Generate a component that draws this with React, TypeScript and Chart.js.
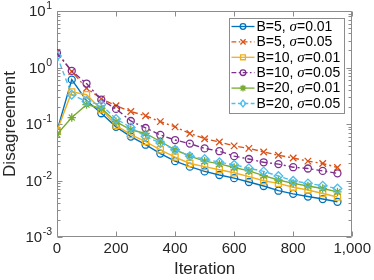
import React, { useEffect, useRef } from 'react';
import { Chart, registerables } from 'chart.js';

Chart.register(...registerables);

// ---------- data ----------
const iterations = [0, 50, 100, 150, 200, 250, 300, 350, 400, 450, 500, 550, 600, 650, 700, 750, 800, 850, 900, 950];

const b5s001 = [0.075, 0.61, 0.26, 0.155, 0.089, 0.060, 0.043, 0.030, 0.022, 0.0176, 0.0145, 0.0125, 0.0110, 0.0094, 0.0080, 0.0066, 0.0058, 0.0052, 0.0047, 0.0042];
const b5s005 = [1.85, 0.85, 0.43, 0.28, 0.21, 0.166, 0.140, 0.110, 0.089, 0.068, 0.055, 0.048, 0.041, 0.037, 0.032, 0.028, 0.025, 0.022, 0.020, 0.017];
const b10s001 = [0.075, 0.37, 0.33, 0.18, 0.095, 0.065, 0.049, 0.035, 0.026, 0.020, 0.0176, 0.0155, 0.0137, 0.0117, 0.0099, 0.0089, 0.0076, 0.0068, 0.0059, 0.0051];
const b10s005 = [1.8, 0.87, 0.52, 0.27, 0.185, 0.113, 0.085, 0.064, 0.052, 0.045, 0.037, 0.033, 0.027, 0.024, 0.021, 0.0195, 0.0172, 0.0163, 0.0148, 0.0134];
const b20s001 = [0.066, 0.13, 0.22, 0.19, 0.11, 0.079, 0.068, 0.049, 0.035, 0.027, 0.022, 0.0197, 0.0170, 0.0148, 0.0122, 0.0102, 0.0089, 0.0080, 0.0072, 0.0063];
const b20s005 = [1.6, 0.33, 0.25, 0.22, 0.123, 0.087, 0.060, 0.046, 0.035, 0.027, 0.024, 0.021, 0.019, 0.0165, 0.0145, 0.0120, 0.0099, 0.0089, 0.0081, 0.0072];

const seriesValues = [b5s001, b5s005, b10s001, b10s005, b20s001, b20s005];
const batchLabels = ['B=5', 'B=5', 'B=10', 'B=10', 'B=20', 'B=20'];
const sigmaLabels = ['0.01', '0.05', '0.01', '0.05', '0.01', '0.05'];

const xTickValues = [0, 200, 400, 600, 800, 1000];
const yTickPowers = [-3, -2, -1, 0, 1];
const xTitle = 'Iteration';
const yTitle = 'Disagreement';

// ---------- styles ----------
const colors = ['#0072BD', '#D95319', '#EDB120', '#7E2F8E', '#77AC30', '#4DBEEE'];
const dashes: number[][] = [[], [6, 3, 2, 3], [], [6, 3, 2, 3], [], [5, 3]];
const markers = ['circle', 'crossRot', 'rect', 'circle', 'star', 'rectRot'];
const markerRadius = [3.5, 4.6, 4.3, 3.5, 4.2, 4.3];

const FONT = '"Liberation Sans", Arial, Helvetica, sans-serif';
const SERIF = '"Liberation Serif", "DejaVu Serif", serif';
const AXIS_COLOR = '#8c8c8c';
const TEXT_COLOR = '#262626';

function drawMarker(ctx: CanvasRenderingContext2D, style: string, x: number, y: number, r: number) {
  ctx.beginPath();
  if (style === 'circle') {
    ctx.arc(x, y, r, 0, Math.PI * 2);
  } else if (style === 'rect') {
    const s = r * Math.SQRT1_2;
    ctx.rect(x - s, y - s, 2 * s, 2 * s);
  } else if (style === 'rectRot') {
    ctx.moveTo(x, y - r);
    ctx.lineTo(x + r * 0.8, y);
    ctx.lineTo(x, y + r);
    ctx.lineTo(x - r * 0.8, y);
    ctx.closePath();
  } else if (style === 'crossRot') {
    const s = r * Math.SQRT1_2;
    ctx.moveTo(x - s, y - s); ctx.lineTo(x + s, y + s);
    ctx.moveTo(x - s, y + s); ctx.lineTo(x + s, y - s);
  } else if (style === 'star') {
    const s = r * Math.SQRT1_2;
    ctx.moveTo(x - s, y - s); ctx.lineTo(x + s, y + s);
    ctx.moveTo(x - s, y + s); ctx.lineTo(x + s, y - s);
    ctx.moveTo(x - r, y); ctx.lineTo(x + r, y);
    ctx.moveTo(x, y - r); ctx.lineTo(x, y + r);
  }
  ctx.stroke();
}

const axesPlugin = {
  id: 'matlabAxes',
  beforeDatasetsDraw(chart: any) {
    const { ctx, chartArea: a, scales } = chart;
    const xs = scales.x;
    const ys = scales.y;
    const L = Math.round(a.left) + 0.5;
    const R = Math.round(a.right) - 0.5;
    const T = Math.round(a.top) + 0.5;
    const B = Math.round(a.bottom) - 0.5;
    ctx.save();
    ctx.strokeStyle = AXIS_COLOR;
    ctx.lineWidth = 1;
    ctx.beginPath();
    ctx.rect(L, T, R - L, B - T);
    ctx.stroke();
    // x ticks (inward, bottom and top)
    ctx.beginPath();
    for (const v of xTickValues) {
      const px = Math.round(xs.getPixelForValue(v)) + 0.5;
      ctx.moveTo(px, B); ctx.lineTo(px, B - 5);
      ctx.moveTo(px, T); ctx.lineTo(px, T + 5);
    }
    // y major ticks
    for (const p of yTickPowers) {
      const py = Math.round(ys.getPixelForValue(Math.pow(10, p))) + 0.5;
      ctx.moveTo(L, py); ctx.lineTo(L + 5, py);
      ctx.moveTo(R, py); ctx.lineTo(R - 5, py);
    }
    // y minor ticks
    for (let p = -3; p < 1; p++) {
      for (let k = 2; k <= 9; k++) {
        const py = Math.round(ys.getPixelForValue(k * Math.pow(10, p))) + 0.5;
        ctx.moveTo(L, py); ctx.lineTo(L + 3, py);
        ctx.moveTo(R, py); ctx.lineTo(R - 3, py);
      }
    }
    ctx.stroke();

    // y tick labels 10^n
    ctx.fillStyle = TEXT_COLOR;
    ctx.textBaseline = 'alphabetic';
    ctx.textAlign = 'left';
    const baseFont = `15px ${FONT}`;
    const expFont = `10.5px ${FONT}`;
    for (const p of yTickPowers) {
      const py = ys.getPixelForValue(Math.pow(10, p));
      const expText = String(p);
      ctx.font = baseFont;
      const wb = ctx.measureText('10').width;
      ctx.font = expFont;
      const we = ctx.measureText(expText).width;
      const x0 = a.left - 5 - wb - we - 0.5;
      ctx.font = baseFont;
      ctx.fillText('10', x0, py + 5.4);
      ctx.font = expFont;
      ctx.fillText(expText, x0 + wb + 0.5, py - 2);
    }
    ctx.restore();
  },
};

const legendPlugin = {
  id: 'matlabLegend',
  afterDraw(chart: any) {
    const { ctx, chartArea: a } = chart;
    const boxL = Math.round(a.right) - 123 + 0.5;
    const boxT = Math.round(a.top) + 7 + 0.5;
    const boxW = 115;
    const boxH = 95;
    ctx.save();
    ctx.fillStyle = '#ffffff';
    ctx.fillRect(boxL, boxT, boxW, boxH);
    ctx.strokeStyle = AXIS_COLOR;
    ctx.lineWidth = 1;
    ctx.strokeRect(boxL, boxT, boxW, boxH);
    for (let i = 0; i < seriesValues.length; i++) {
      const y = boxT + 8 + i * 15.4;
      ctx.strokeStyle = colors[i];
      ctx.lineWidth = 1.3;
      ctx.setLineDash(dashes[i].map((d) => d * 0.8));
      ctx.beginPath();
      ctx.moveTo(boxL + 2, y);
      ctx.lineTo(boxL + 25, y);
      ctx.stroke();
      ctx.setLineDash([]);
      drawMarker(ctx, markers[i], boxL + 13.5, y, markerRadius[i] * 0.8);
      // text
      ctx.fillStyle = '#000000';
      ctx.textBaseline = 'middle';
      ctx.textAlign = 'left';
      let tx = boxL + 27;
      ctx.font = `14px ${FONT}`;
      const part1 = batchLabels[i] + ', ';
      ctx.fillText(part1, tx, y + 0.5);
      tx += ctx.measureText(part1).width;
      ctx.font = `italic 15px ${SERIF}`;
      ctx.fillText('σ', tx, y + 0.5);
      tx += ctx.measureText('σ').width;
      ctx.font = `14px ${FONT}`;
      ctx.fillText('=' + sigmaLabels[i], tx, y + 0.5);
    }
    ctx.restore();
  },
};

export default function App() {
  const canvasRef = useRef<HTMLCanvasElement | null>(null);

  useEffect(() => {
    const canvas = canvasRef.current;
    if (!canvas) return;
    const datasets = seriesValues.map((vals, i) => ({
      label: `${batchLabels[i]}, σ=${sigmaLabels[i]}`,
      data: iterations.map((x, j) => ({ x, y: vals[j] })),
      borderColor: colors[i],
      backgroundColor: 'rgba(0,0,0,0)',
      borderWidth: 1.4,
      borderDash: dashes[i],
      pointStyle: markers[i],
      pointRadius: markerRadius[i],
      pointBorderWidth: 1.3,
      pointBorderColor: colors[i],
      pointBackgroundColor: 'rgba(0,0,0,0)',
      tension: 0,
      fill: false,
      order: seriesValues.length - i,
    }));

    const chart = new Chart(canvas, {
      type: 'line',
      data: { datasets },
      options: {
        responsive: false,
        animation: false,
        devicePixelRatio: 1,
        layout: { padding: { left: 0, right: 19, top: 11, bottom: 0 } },
        plugins: {
          legend: { display: false },
          tooltip: { enabled: false },
        },
        scales: {
          x: {
            type: 'linear',
            min: 0,
            max: 1000,
            afterBuildTicks: (scale: any) => {
              scale.ticks = xTickValues.map((v) => ({ value: v }));
            },
            afterFit: (scale: any) => {
              scale.height = 43;
            },
            ticks: {
              color: TEXT_COLOR,
              font: { family: FONT, size: 15 },
              padding: 3,
              maxRotation: 0,
              autoSkip: false,
            },
            grid: { display: false, drawTicks: false },
            border: { display: false },
            title: {
              display: true,
              text: xTitle,
              color: TEXT_COLOR,
              font: { family: FONT, size: 17 },
              padding: { top: 0, bottom: 0 },
            },
          },
          y: {
            type: 'logarithmic',
            min: 0.001,
            max: 10,
            afterFit: (scale: any) => {
              scale.width = 57;
            },
            ticks: { display: false },
            grid: { display: false, drawTicks: false },
            border: { display: false },
            title: {
              display: true,
              text: yTitle,
              color: TEXT_COLOR,
              font: { family: FONT, size: 17 },
              padding: { top: 0, bottom: 0 },
            },
          },
        },
      },
      plugins: [axesPlugin, legendPlugin],
    } as any);

    return () => {
      chart.destroy();
    };
  }, []);

  return (
    <div style={{ position: 'fixed', left: 0, top: 0, width: 374, height: 280, background: '#ffffff' }}>
      <canvas ref={canvasRef} width={374} height={280} style={{ display: 'block', width: 374, height: 280 }} />
    </div>
  );
}
